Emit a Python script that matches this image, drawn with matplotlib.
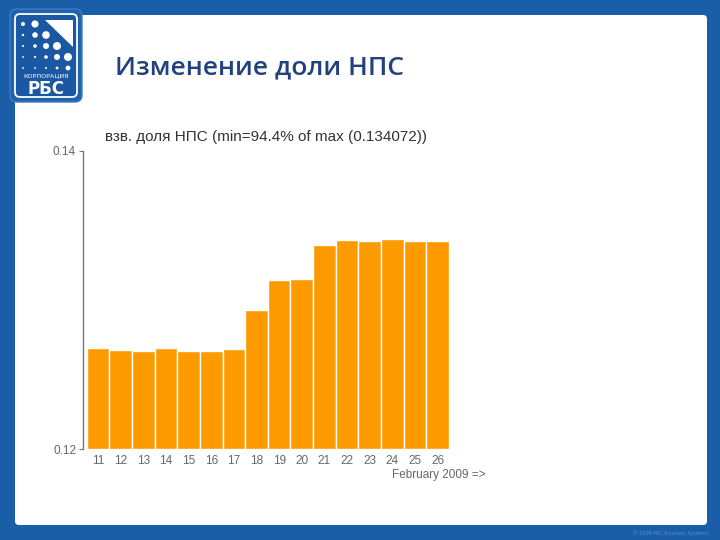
import matplotlib

matplotlib.use("Agg")
import matplotlib.pyplot as plt
from matplotlib.patches import FancyBboxPatch, Circle, Polygon

days = [11, 12, 13, 14, 15, 16, 17, 18, 19, 20, 21, 22, 23, 24, 25, 26]
share = [0.12680, 0.12666, 0.12660, 0.12676, 0.12658, 0.12656, 0.12669, 0.12935,
         0.13134, 0.13143, 0.13371, 0.13403, 0.13396, 0.134072, 0.13398, 0.13394]
yticks = [0.12, 0.14]

BLUE = "#1b5ea8"
W, H = 720, 540

fig = plt.figure(figsize=(7.2, 5.4), dpi=100)
fig.patch.set_facecolor(BLUE)

# slide background (pixel coords, y down)
bg = fig.add_axes([0, 0, 1, 1], zorder=0)
bg.set_xlim(0, W)
bg.set_ylim(H, 0)
bg.axis("off")
bg.add_patch(FancyBboxPatch((15, 15), 692, 510, boxstyle="round,pad=0,rounding_size=4",
                            fc="white", ec="none"))

# logo
bg.add_patch(FancyBboxPatch((10, 9), 72, 93, boxstyle="round,pad=0,rounding_size=7",
                            fc="#1f62ad", ec="#3f7cc0", lw=1))
bg.add_patch(FancyBboxPatch((15, 14), 62, 83, boxstyle="round,pad=0,rounding_size=5",
                            fc="#1b58a3", ec="white", lw=1.3))
bg.add_patch(Polygon([(45, 20), (73, 20), (73, 47)], closed=True, fc="white", ec="none"))
cols = [23, 35, 46, 57, 68]
rows = [24, 35, 46, 57, 68]
sizes = [
    [2.0, 3.6],
    [1.2, 2.8, 3.8],
    [1.0, 1.8, 3.0, 4.0],
    [0.9, 1.1, 1.8, 3.0, 4.0],
    [0.9, 0.9, 1.0, 1.4, 2.4],
]
for r, row in zip(rows, sizes):
    for c, s in zip(cols, row):
        bg.add_patch(Circle((c, r), s, fc="white", ec="none"))
bg.text(46, 76, "КОРПОРАЦИЯ", color="white", fontsize=4.6, ha="center", va="center",
        family="DejaVu Sans")
bg.text(46, 88.5, "РБС", color="white", fontsize=12, fontweight="heavy", ha="center",
        va="center", family="DejaVu Sans")

bg.text(115, 68, "Изменение доли НПС", color="#21427f", fontsize=19, fontweight=600,
        ha="left", va="center", family="Open Sans")
bg.text(708, 533, "© 2009 РБС Business Systems", color="#5d8cc8", fontsize=3.5,
        ha="right", va="center")
bg.text(486, 475, "February 2009 =>", color="#666666", fontsize=8.5, ha="right",
        va="center", family="Liberation Sans")

# chart
ax = fig.add_axes([83 / W, 1 - 449 / H, 366 / W, 298 / H], zorder=1)
ax.set_facecolor("none")
ax.bar(days, [v - yticks[0] for v in share], bottom=yticks[0], width=1.0,
       color="#fd9a00", edgecolor="white", linewidth=1.0)
ax.set_xlim(days[0] - 0.66, days[-1] + 0.5)
ax.set_ylim(yticks[0], yticks[-1])
ax.set_yticks(yticks)
ax.set_yticklabels([f"{t:.2f}" for t in yticks])
ax.set_xticks(days)
ax.set_xticklabels([str(d) for d in days])
for s in ["top", "right", "bottom"]:
    ax.spines[s].set_visible(False)
ax.spines["left"].set_color("#777777")
ax.spines["left"].set_linewidth(1.0)
ax.tick_params(axis="y", length=3, color="#777777", labelsize=8.5, labelcolor="#666666",
               pad=2)
ax.tick_params(axis="x", length=0, labelsize=8.5, labelcolor="#666666", pad=4)
for lab in ax.get_xticklabels() + ax.get_yticklabels():
    lab.set_family("Liberation Sans")
ax.set_title("взв. доля НПС (min=94.4% of max (0.134072))", fontsize=11, color="#333333",
             pad=7, family="Liberation Sans")

fig.savefig("out.png", dpi=100, facecolor=fig.get_facecolor())
